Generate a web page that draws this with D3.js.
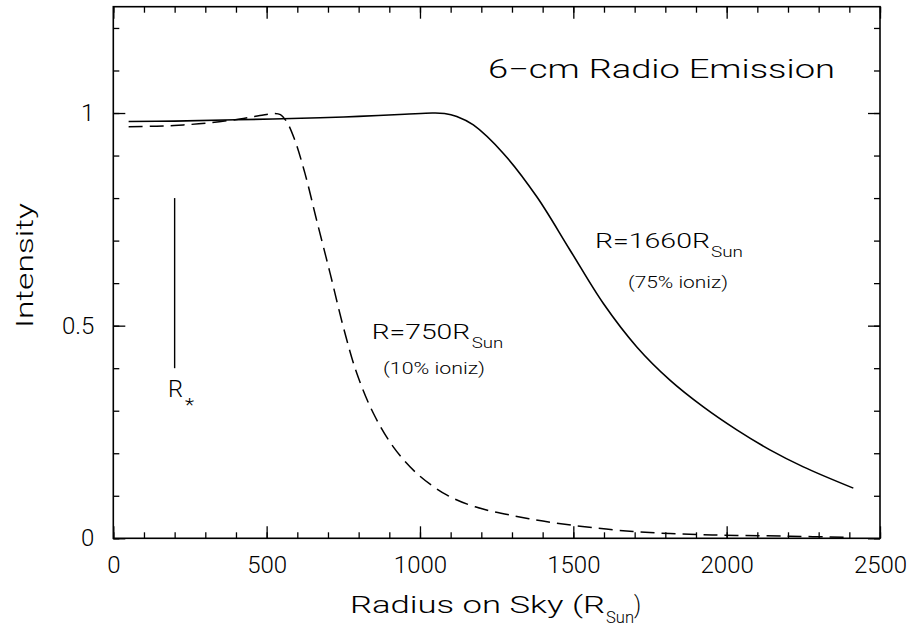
<!DOCTYPE html>
<html><head><meta charset="utf-8">
<script src="https://cdn.jsdelivr.net/npm/d3@7"></script>
<style>
html,body{margin:0;padding:0;background:#fff;}
svg text{font-family:"Roboto","DejaVu Sans",sans-serif;font-weight:300;fill:#000;}
</style></head>
<body><svg id="chart" width="915" height="626"></svg>
<script>
// ---- data ----
const solidX = [50, 200, 400, 674, 800, 950, 1040, 1080, 1120, 1174, 1272, 1381, 1489, 1598, 1707, 1815, 1924, 2033, 2141, 2250, 2413];
const solidY = [0.980, 0.981, 0.984, 0.989, 0.992, 0.997, 1.000, 0.999, 0.992, 0.972, 0.905, 0.803, 0.678, 0.552, 0.450, 0.372, 0.309, 0.255, 0.208, 0.168, 0.118];
const dashX = [50, 141, 228, 315, 413, 478, 527, 545, 565, 590, 625, 663, 707, 750, 794, 848, 913, 989, 1087, 1180, 1312, 1440, 1695, 1953, 2207, 2400];
const dashY = [0.968, 0.969, 0.972, 0.977, 0.986, 0.994, 0.999, 0.996, 0.980, 0.940, 0.858, 0.748, 0.623, 0.497, 0.388, 0.294, 0.215, 0.153, 0.102, 0.074, 0.052, 0.036, 0.016, 0.008, 0.005, 0.002];
const xMajorTicks = [0, 500, 1000, 1500, 2000, 2500];
const xTickLabels = ["0", "500", "1000", "1500", "2000", "2500"];
const yMajorTicks = [0, 0.5, 1];
const yTickLabels = ["0", "0.5", "1"];
const rStarX = 200;
const rStarY = [0.4, 0.8];

const svg = d3.select("#chart");
const L = 113.3, R = 880, T = 6.7, B = 538.3;
const x = d3.scaleLinear().domain([0, 2500]).range([L, R]);
const y = d3.scaleLinear().domain([0, 1.25]).range([B, T]);

const xMinor = d3.range(0, 2501, 100);
const yMinor = d3.range(0, 1.2501, 0.1).map(v => +v.toFixed(2));

function styleAxis(g){
  g.select(".domain").remove();
  g.selectAll(".tick line").attr("stroke", "#000").attr("stroke-width", 1.3);
  g.selectAll(".tick text").style("font-size", "24px").attr("fill", "#000");
}
// bottom
svg.append("g").attr("transform", `translate(0,${B})`)
  .call(d3.axisBottom(x).tickValues(xMinor).tickSize(-6).tickFormat("")).call(styleAxis);
svg.append("g").attr("transform", `translate(0,${B})`)
  .call(d3.axisBottom(x).tickValues(xMajorTicks).tickSize(-12).tickPadding(18)
  .tickFormat((d, i) => xTickLabels[i])).call(styleAxis);
// top
svg.append("g").attr("transform", `translate(0,${T})`)
  .call(d3.axisTop(x).tickValues(xMinor).tickSize(-6).tickFormat("")).call(styleAxis);
svg.append("g").attr("transform", `translate(0,${T})`)
  .call(d3.axisTop(x).tickValues(xMajorTicks).tickSize(-12).tickFormat("")).call(styleAxis);
// left
svg.append("g").attr("transform", `translate(${L},0)`)
  .call(d3.axisLeft(y).tickValues(yMinor).tickSize(-6).tickFormat("")).call(styleAxis);
svg.append("g").attr("transform", `translate(${L},0)`)
  .call(d3.axisLeft(y).tickValues(yMajorTicks).tickSize(-12).tickPadding(19)
  .tickFormat((d, i) => yTickLabels[i])).call(styleAxis);
// right
svg.append("g").attr("transform", `translate(${R},0)`)
  .call(d3.axisRight(y).tickValues(yMinor).tickSize(-6).tickFormat("")).call(styleAxis);
svg.append("g").attr("transform", `translate(${R},0)`)
  .call(d3.axisRight(y).tickValues(yMajorTicks).tickSize(-12).tickFormat("")).call(styleAxis);

// frame
svg.append("rect").attr("x", L).attr("y", T).attr("width", R - L).attr("height", B - T)
  .attr("fill", "none").attr("stroke", "#000").attr("stroke-width", 1.6);

// curves
const line = d3.line().x(d => x(d[0])).y(d => y(d[1])).curve(d3.curveCatmullRom.alpha(0.5));
svg.append("path").datum(solidX.map((v, i) => [v, solidY[i]]))
  .attr("d", line).attr("fill", "none").attr("stroke", "#000").attr("stroke-width", 1.6);
svg.append("path").datum(dashX.map((v, i) => [v, dashY[i]]))
  .attr("d", line).attr("fill", "none").attr("stroke", "#000").attr("stroke-width", 1.5)
  .attr("stroke-dasharray", "14,7");

// R* marker
svg.append("line").attr("x1", x(rStarX)).attr("x2", x(rStarX))
  .attr("y1", y(rStarY[0])).attr("y2", y(rStarY[1])).attr("stroke", "#000").attr("stroke-width", 1.4);

function txt(s, tx, ty, size, len, anchor){
  const t = svg.append("text").attr("x", tx).attr("y", ty).style("font-size", size + "px").text(s);
  if (len) t.attr("textLength", len).attr("lengthAdjust", "spacingAndGlyphs");
  if (anchor) t.attr("text-anchor", anchor);
  return t;
}
txt("R", 168, 397, 23, 15);
txt("*", 185, 411, 18, 9);

// title
txt("6\u2212cm Radio Emission", 488, 78, 26, 347);

// curve labels
txt("R=750R", 371.7, 339.3, 20, 98.5);
txt("Sun", 471.7, 348, 15, 31.5);
txt("(10% ioniz)", 383, 374, 16, 102);
txt("R=1660R", 595, 248.3, 20, 115);
txt("Sun", 711, 257, 15, 32);
txt("(75% ioniz)", 628, 288, 16, 100);

// x axis title
txt("Radius on Sky (R", 350, 612.7, 24, 255);
txt("Sun", 606, 623, 17, 28);
txt(")", 634, 612.7, 24, 7);

// y axis title
svg.append("text").attr("transform", "translate(33,265.5) rotate(-90)")
  .attr("text-anchor", "middle").style("font-size", "24px")
  .attr("textLength", 125).attr("lengthAdjust", "spacingAndGlyphs").text("Intensity");
</script></body></html>
